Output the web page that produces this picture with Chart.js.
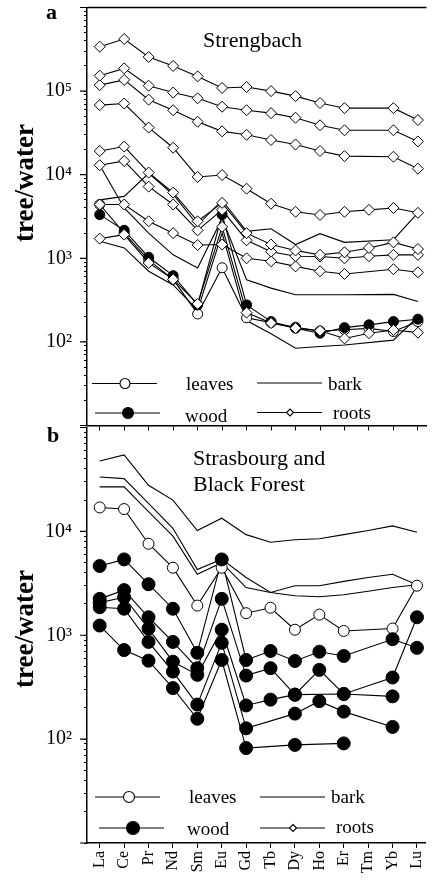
<!DOCTYPE html>
<html>
<head>
<meta charset="utf-8">
<script src="https://cdn.jsdelivr.net/npm/chart.js@4.4.0/dist/chart.umd.min.js"></script>
<style>
  body { margin: 0; background: #fff; width: 433px; height: 881px; overflow: hidden; position: relative; }
  canvas { position: absolute; left: 0; }
  #chartA { top: 0; }
  #chartB { top: 420px; }
</style>
</head>
<body>
<canvas id="chartA" width="433" height="432"></canvas>
<canvas id="chartB" width="433" height="461"></canvas>
<script>
const FONT = "'Liberation Serif', 'Times New Roman', serif";

// REE along the x axis
const elements = ['La', 'Ce', 'Pr', 'Nd', 'Sm', 'Eu', 'Gd', 'Tb', 'Dy', 'Ho', 'Er', 'Tm', 'Yb', 'Lu'];

// panel a - Strengbach (tree/water ratios, null = not measured)
const aRoots1 = [340000, 420000, 256000, 200000, 150000, 109000, 112000, 100000, 87000, 72000, 62500, null, 62500, 45000];
const aRoots2 = [153000, 187000, 116000, 96000, 82000, 65000, 59000, 54500, 48000, 39000, 34000, null, 34000, 25000];
const aRoots3 = [118000, 136000, 79000, 59000, 43000, 33000, 30000, 26000, 23000, 19200, 16700, null, 16400, 11800];
const aRoots4 = [68000, 71000, 36600, 21000, 9400, 9900, 6800, 4500, 3600, 3300, 3600, 3800, 4000, 3500];
const aRoots5 = [19200, 21700, 10600, 6100, 2770, 4600, 2000, 1460, 1240, 1100, 1180, 1330, 1550, 1290];
const aRoots6 = [13000, 14600, 7200, 4400, 2160, 3800, 1640, 1200, 1060, 1050, 1000, 1060, 1100, 1100];
const aRoots7 = [4400, 4400, 2770, 2000, 1440, 1460, 1000, 920, 800, 700, 650, null, 740, 680];
const aRoots8 = [1720, 1920, 880, 560, 285, 2380, 224, 168, 146, 136, 110, 127, 139, 129];
const aBark1 = [5000, 5500, 10400, 5800, 2500, 4950, 2100, 2260, 1460, 1970, 1550, null, 1670, 3500];
const aBark2 = [13000, 4000, 2000, 1100, 766, 3000, 553, 440, 367, 367, 367, null, 370, 304];
const aBark3 = [1600, 1330, 700, 480, 240, 2000, 180, 125, 84, 88, 92, null, 105, 200];
const aLeaves = [4400, 2000, 950, 560, 216, 770, 194, 170, 150, 135, 140, 145, 133, 175];
const aWood = [3330, 2160, 1030, 620, 277, 3330, 277, 175, 146, 127, 148, 160, 175, 187];

// panel b - Strasbourg and Black Forest
const bBark1 = [47500, 54500, 27800, 20000, 10200, 13400, 9300, 7850, 8300, 8500, 9300, 10200, 11300, 9800];
const bBark2 = [33400, 32200, 18600, 10700, 4300, 5400, 3600, 2580, 3000, 3000, 3300, 3600, 3870, 3060];
const bBark3 = [26800, 26800, 15500, 9000, 3870, 5000, 2880, 2580, 2400, 2350, 2450, 2650, 2880, 3060];
const bLeaves = [17000, 16400, 7600, 4470, 1930, 4470, 1630, 1840, 1130, 1580, 1100, null, 1160, 3000];
const bWood1 = [4640, 5370, 3100, 1800, 678, 5370, 578, 705, 565, 694, 631, null, 916, 757];
const bWood2 = [2240, 2720, 1490, 863, 482, 2240, 409, 482, 268, 464, 272, null, 392, 1490];
const bWood3 = [2060, 2320, 1160, 557, 416, 1130, 211, 240, 268, null, 272, null, 258, null];
const bWood4 = [1860, 1800, 863, 447, 215, 845, 127, null, 176, 232, 184, null, 131, null];
const bWood5 = [1240, 720, 569, 310, 157, 578, 82, null, 88, null, 91, null, null, null];

// labelled decades on each y axis
const aDecades = [100, 1000, 10000, 100000];
const bDecades = [100, 1000, 10000];

const SUP = '⁰¹²³⁴⁵⁶⁷⁸⁹';
function sup(n) {
    return String(n).split('').map(d => SUP[d]).join('');
}

const markerStyles = {
    leaves: big => ({ pointStyle: 'circle', pointRadius: big ? 5.5 : 5, pointBackgroundColor: '#fff' }),
    wood: big => ({ pointStyle: 'circle', pointRadius: big ? 6.5 : 5, pointBackgroundColor: '#000' }),
    roots: () => ({ pointStyle: 'rectRot', pointRadius: 5.5, pointBackgroundColor: '#fff' })
};

function toPoints(values) {
    return values.map((v, i) => ({ x: i, y: v })).filter(p => p.y !== null);
}

// lines underneath, markers on top
function buildDatasets(list, big) {
    const sets = [];
    list.forEach(([kind, values]) => {
        const pts = toPoints(values);
        sets.push({ data: pts, borderColor: '#000', borderWidth: 1.1, pointRadius: 0, fill: false, order: 2 });
        if (kind !== 'bark') {
            sets.push(Object.assign({
                data: pts, showLine: false, pointBorderColor: '#000', pointBorderWidth: 1, order: 1
            }, markerStyles[kind](big)));
        }
    });
    return sets;
}

function drawMarker(ctx, kind, x, y, r) {
    ctx.beginPath();
    if (kind === 'roots') {
        ctx.moveTo(x, y - r); ctx.lineTo(x + r, y); ctx.lineTo(x, y + r); ctx.lineTo(x - r, y); ctx.closePath();
    } else {
        ctx.arc(x, y, r, 0, Math.PI * 2);
    }
    ctx.fillStyle = kind === 'wood' ? '#000' : '#fff';
    ctx.fill();
    ctx.stroke();
}

const decorations = {
    id: 'decorations',
    afterDraw(chart, args, o) {
        const { ctx, chartArea: ca } = chart;
        const ys = chart.scales.y;
        ctx.save();
        ctx.strokeStyle = '#000';
        ctx.fillStyle = '#000';

        // longer marks at the decades
        ctx.lineWidth = 1.2;
        ctx.beginPath();
        o.majors.forEach(v => {
            const p = ys.getPixelForValue(v);
            ctx.moveTo(ca.left - 7, p);
            ctx.lineTo(ca.left, p);
        });
        ctx.stroke();

        if (o.topBorder) {
            ctx.lineWidth = 1.5;
            ctx.beginPath();
            ctx.moveTo(ca.left, ca.top);
            ctx.lineTo(ca.right, ca.top);
            ctx.stroke();
        }

        ctx.textAlign = 'left';
        ctx.textBaseline = 'alphabetic';
        ctx.font = `bold 22px ${FONT}`;
        ctx.fillText(o.letter.text, o.letter.x, o.letter.y);

        ctx.font = `22px ${FONT}`;
        o.title.forEach(t => ctx.fillText(t.text, t.x, t.y));

        ctx.save();
        ctx.translate(o.yTitle.x, o.yTitle.y);
        ctx.rotate(-Math.PI / 2);
        ctx.font = `bold 27px ${FONT}`;
        ctx.textAlign = 'center';
        ctx.fillText('tree/water', 0, 0);
        ctx.restore();

        // legend
        o.legend.forEach(e => {
            ctx.lineWidth = 1.1;
            ctx.beginPath();
            ctx.moveTo(e.x1, e.y);
            ctx.lineTo(e.x2, e.y);
            ctx.stroke();
            if (e.kind !== 'bark') drawMarker(ctx, e.kind, e.mx, e.y, e.r);
            ctx.fillStyle = '#000';
            ctx.font = `19px ${FONT}`;
            ctx.fillText(e.kind, e.tx, e.ty);
        });
        ctx.restore();
    }
};

function makeChart(id, list, opts) {
    return new Chart(document.getElementById(id), {
        type: 'line',
        data: { datasets: buildDatasets(list, opts.big) },
        options: {
            responsive: false,
            animation: false,
            events: [],
            layout: { padding: { top: opts.padTop, left: 0, right: 0, bottom: 0 } },
            plugins: { legend: { display: false }, tooltip: { enabled: false }, decorations: opts.deco },
            scales: {
                x: {
                    type: 'linear', min: -0.52, max: 13.35,
                    afterBuildTicks: s => { s.ticks = elements.map((_, i) => ({ value: i })); },
                    afterFit: s => {
                        s.height = opts.xHeight;
                        s.paddingLeft = 0;
                        s.paddingRight = 0;
                    },
                    ticks: {
                        autoSkip: false, maxRotation: 90, minRotation: 90, padding: 3, color: '#000',
                        font: { family: FONT, size: 16 },
                        callback: v => opts.showNames ? elements[v] : ''
                    },
                    grid: { drawOnChartArea: false, tickLength: 5, tickColor: '#000', tickWidth: 1 },
                    border: { color: '#000', width: 1.5 }
                },
                y: {
                    type: 'logarithmic', min: 10, max: opts.yMax,
                    afterBuildTicks: s => {
                        const t = [];
                        for (let v = 10; v < opts.yMax; v *= 10) {
                            for (let m = 1; m < 10; m++) t.push({ value: m * v });
                        }
                        t.push({ value: opts.yMax });
                        s.ticks = t;
                    },
                    afterFit: s => {
                        s.width = 87;
                        s.paddingTop = 0;
                        s.paddingBottom = 0;
                    },
                    ticks: {
                        autoSkip: false, padding: 12, color: '#000',
                        font: { family: FONT, size: 20 },
                        callback: v => opts.decades.includes(v) ? '10' + sup(Math.round(Math.log10(v))) : ''
                    },
                    grid: { drawOnChartArea: false, tickLength: 3, tickColor: '#000', tickWidth: 1 },
                    border: { color: '#000', width: 1.5 }
                }
            }
        },
        plugins: [decorations]
    });
}

makeChart('chartA', [
    ['bark', aBark1], ['bark', aBark2], ['bark', aBark3],
    ['roots', aRoots1], ['roots', aRoots2], ['roots', aRoots3], ['roots', aRoots4],
    ['roots', aRoots5], ['roots', aRoots6], ['roots', aRoots7], ['roots', aRoots8],
    ['wood', aWood], ['leaves', aLeaves]
], {
    big: false, padTop: 7.5, xHeight: 5.5, yMax: 1e6, decades: aDecades, showNames: false,
    deco: {
        majors: [10, 100, 1000, 10000, 100000, 1000000],
        topBorder: true,
        letter: { text: 'a', x: 46, y: 18.5 },
        title: [{ text: 'Strengbach', x: 203, y: 46.5 }],
        yTitle: { x: 33, y: 183 },
        legend: [
            { kind: 'leaves', x1: 92, x2: 157, y: 383.5, mx: 125, r: 5, tx: 186, ty: 390 },
            { kind: 'bark', x1: 257, x2: 322, y: 383, tx: 328, ty: 389.5 },
            { kind: 'wood', x1: 95, x2: 160, y: 413, mx: 128, r: 5.5, tx: 185, ty: 421.5 },
            { kind: 'roots', x1: 257, x2: 322, y: 412.5, mx: 290, r: 3.5, tx: 333, ty: 418.5 }
        ]
    }
});

makeChart('chartB', [
    ['bark', bBark1], ['bark', bBark2], ['bark', bBark3],
    ['wood', bWood1], ['wood', bWood2], ['wood', bWood3], ['wood', bWood4], ['wood', bWood5],
    ['leaves', bLeaves]
], {
    big: true, padTop: 6.5, xHeight: 38, yMax: 1e5, decades: bDecades, showNames: true,
    deco: {
        majors: [10, 100, 1000, 10000, 100000],
        topBorder: false,
        letter: { text: 'b', x: 47, y: 22 },
        title: [{ text: 'Strasbourg and', x: 193, y: 44.5 }, { text: 'Black Forest', x: 193, y: 71 }],
        yTitle: { x: 33, y: 209 },
        legend: [
            { kind: 'leaves', x1: 95, x2: 160, y: 377, mx: 129, r: 5.5, tx: 189, ty: 382.5 },
            { kind: 'bark', x1: 260, x2: 325, y: 377, tx: 331, ty: 382.5 },
            { kind: 'wood', x1: 99, x2: 164, y: 408, mx: 133, r: 6.5, tx: 187, ty: 414.5 },
            { kind: 'roots', x1: 260, x2: 325, y: 408, mx: 293, r: 3.5, tx: 336, ty: 412.5 }
        ]
    }
});
</script>
</body>
</html>
